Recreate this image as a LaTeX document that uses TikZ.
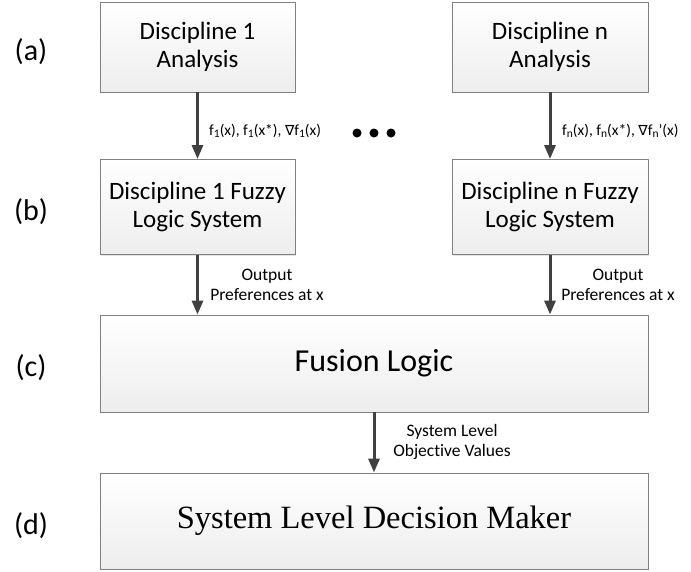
\documentclass[tikz,border=0pt]{standalone}
\usepackage{fontspec}
\setmainfont{Carlito}[Ligatures=NoCommon]
\newfontfamily\timesfont{Liberation Serif}
\newfontfamily\dejavu{DejaVu Sans}
\usetikzlibrary{arrows.meta,shadows}
\newcommand\lo[1]{\raisebox{-1.5pt}{\fontsize{11.5}{11.5}\selectfont #1}}
\newcommand\nab{{\dejavu\fontsize{14}{14}\selectfont ∇}}
\begin{document}
\begin{tikzpicture}[x=1pt,y=-1pt,>={Triangle[length=14pt,width=11pt]}, line join=round,
		box/.style={draw=black!50, line width=0.9pt, top color=white, bottom color=black!7,
			drop shadow={shadow xshift=1.2pt, shadow yshift=-1.2pt, opacity=0.25, fill=black!40},
			align=center, inner sep=0pt, font=\fontsize{25}{28}\selectfont},
		arr/.style={->, line width=3pt, draw=black!75, fill=black!75},
		lab/.style={font=\fontsize{17.5}{20.5}\selectfont, align=center, inner sep=0pt},
		row/.style={font=\fontsize{30}{34}\selectfont, inner sep=0pt}]
		\def\xl{197.5} \def\xr{550} \def\xm{374} % Spalten
		\useasboundingbox (0,0) rectangle (691,571);
		\node[row] (ra) at (31,52) {(a)};
		\node[row] (rb) at (31,212) {(b)};
		\node[row] (rc) at (31,368) {(c)};
		\node[row] (rd) at (31,526) {(d)};
		\node[box, minimum width=195pt, minimum height=90pt] (a1) at (\xl,47) {Discipline 1\\Analysis};
		\node[box, minimum width=196pt, minimum height=90pt] (an) at (\xr,47) {Discipline n\\Analysis};
		\node[box, minimum width=195pt, minimum height=95pt] (b1) at (\xl,207) {Discipline 1 Fuzzy\\Logic System};
		\node[box, minimum width=196pt, minimum height=95pt] (bn) at (\xr,207) {Discipline n Fuzzy\\Logic System};
		\node[box, minimum width=548pt, minimum height=97pt, font=\fontsize{32}{36}\selectfont] (fus) at (\xm,363.5) {Fusion Logic};
		\node[box, minimum width=548pt, minimum height=96pt, font=\timesfont\fontsize{32.5}{38}\selectfont] (dm) at (\xm,521) {System Level Decision Maker};
		\draw[arr] (a1) -- (b1);
		\draw[arr] (an) -- (bn);
		\draw[arr] (b1.south) -- (b1.south |- fus.north);
		\draw[arr] (bn.south) -- (bn.south |- fus.north);
		\draw[arr] (fus) -- (dm);
		\node[lab, anchor=west, font=\fontsize{15.5}{17}\selectfont] (f1) at (209,131) {f\lo{1}(x), f\lo{1}(x*), \nab f\lo{1}(x)};
		\node[lab, anchor=west, font=\fontsize{15.5}{17}\selectfont] (fn) at (562,131) {f\lo{n}(x), f\lo{n}(x*), \nab f\lo{n}’(x)};
		\node[lab] (p1) at (267,285) {Output\\Preferences at x};
		\node[lab] (pn) at (618,285) {Output\\Preferences at x};
		\node[lab] (sv) at (452,442) {System Level\\Objective Values};
		\foreach \i in {357,374,391}
		\fill (\i,133) circle (4.5pt);
	\end{tikzpicture}
\end{document}
